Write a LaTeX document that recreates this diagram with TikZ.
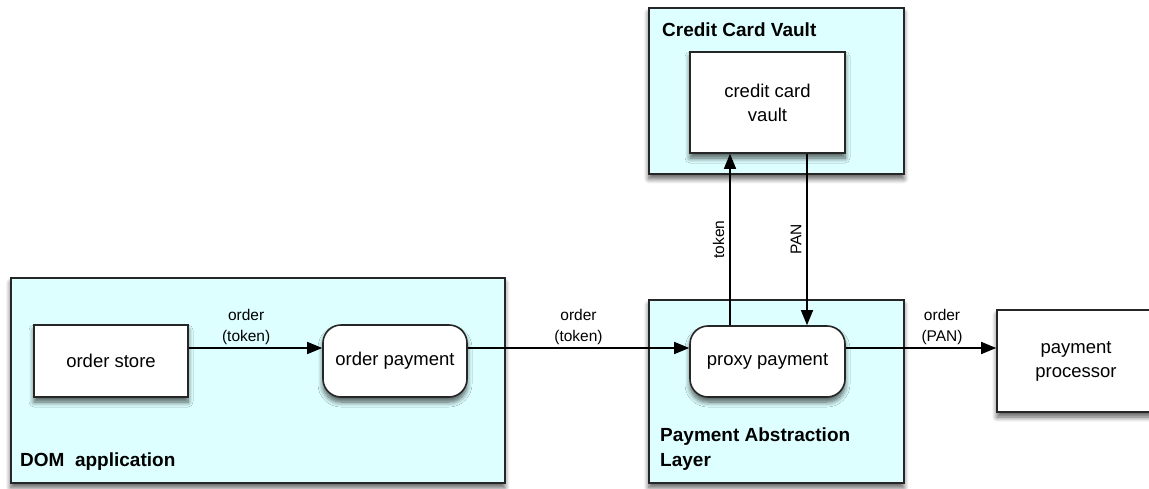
\documentclass[tikz,border=0pt]{standalone}
\usepackage{fontspec}
\setmainfont{Liberation Sans}
\usetikzlibrary{positioning,arrows.meta,shadows.blur}
\definecolor{paleCyan}{RGB}{221,255,255}

\begin{document}
\begin{tikzpicture}[x=1pt,y=-1pt,
  shade box/.style={blur shadow={shadow xshift=0pt,shadow yshift=-5pt,shadow blur steps=8,shadow blur radius=5pt,shadow opacity=65}},
  layer/.style={draw=black!85,line width=1.6pt,fill=paleCyan,inner sep=0pt,anchor=north west,shade box},
  unit/.style={draw=black!85,line width=1.6pt,fill=white,inner sep=0pt,align=center,shade box,
    font=\fontsize{18.5}{24}\selectfont},
  process/.style={unit,rounded corners=18pt},
  title/.style={font=\fontsize{19}{25}\selectfont\bfseries,align=left,anchor=west,inner sep=0pt},
  msg/.style={font=\fontsize{15.5}{21}\selectfont,align=center,inner sep=3pt},
  arr/.style={line width=1.4pt,-{Triangle[length=15pt,width=12pt]}}]
\useasboundingbox (0,0) rectangle (1149,489);
%layers
\node[layer,minimum width=494pt,minimum height=205pt] (dom) at (10,277) {};
\node[layer,minimum width=255pt,minimum height=183pt] (pal) at (648,299) {};
\node[layer,minimum width=255pt,minimum height=166pt] (ccv) at (648,7) {};
\node[title] (domname) at (20,462) {DOM\ \ application};
\node[title] (palname) at (660,449.5) {Payment Abstraction\\Layer};
\node[title] (ccvname) at (662,30) {Credit Card Vault};
%boxes
\node[unit,minimum width=154pt,minimum height=72pt] (store) at (111,361) {order store};
\node[process,minimum width=144pt,minimum height=72pt] (orderpay) at (395,361) {order payment};
\node[process,minimum width=155pt,minimum height=71pt] (proxy) at (767.5,361.5) {proxy payment};
\node[unit,minimum width=155pt,minimum height=101pt] (vault) at (767.5,102.5) {credit card\\vault};
\node[unit,minimum width=158pt,minimum height=102pt] (processor) at (1076,361) {payment\\processor};
%flows
\draw[arr] ([yshift=13pt]store.east) -- node[msg,above,pos=0.43] {order\\(token)} ([yshift=13pt]orderpay.west);
\draw[arr] ([yshift=13pt]orderpay.east) -- node[msg,above] {order\\(token)} ([yshift=13.5pt]proxy.west);
\draw[arr] ([yshift=13.5pt]proxy.east) -- node[msg,above,pos=0.64] {order\\(PAN)} ([yshift=13pt]processor.west);
\draw[arr] ([xshift=-37.5pt]proxy.north) -- node[msg,rotate=90,anchor=south,inner sep=5pt] {token} ([xshift=-37.5pt]vault.south);
\draw[arr] ([xshift=39.5pt]vault.south) -- node[msg,rotate=90,anchor=south,inner sep=5pt] {PAN} ([xshift=39.5pt]proxy.north);
\end{tikzpicture}
\end{document}
